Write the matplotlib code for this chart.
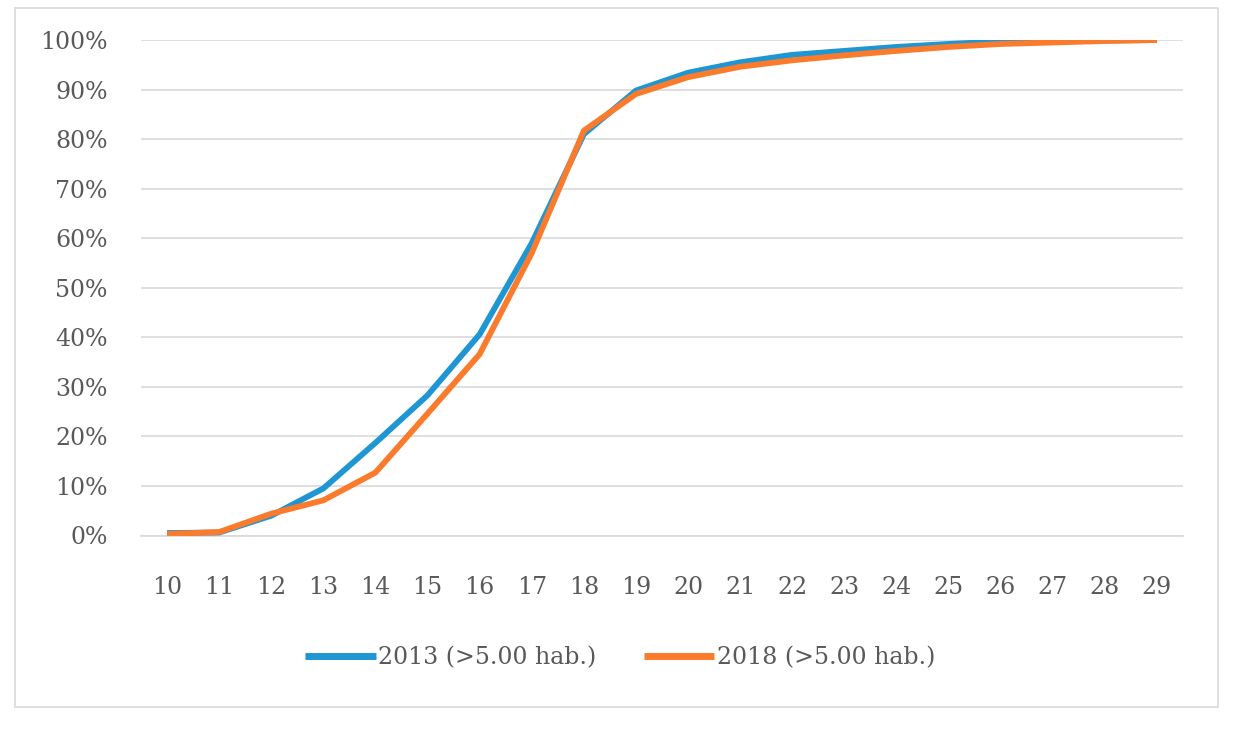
import matplotlib
matplotlib.use("Agg")
import matplotlib.pyplot as plt
from matplotlib.patches import Rectangle
from matplotlib.ticker import FuncFormatter

ages = [10, 11, 12, 13, 14, 15, 16, 17, 18, 19, 20, 21, 22, 23, 24, 25, 26, 27, 28, 29]
s2013 = [0.5, 0.6, 4.0, 9.5, 18.7, 28.3, 40.6, 59.0, 81.0, 89.8, 93.4, 95.5, 97.0, 97.8, 98.6, 99.2, 99.7, 99.8, 99.9, 100.0]
s2018 = [0.3, 0.7, 4.4, 7.1, 12.7, 24.6, 36.6, 57.0, 81.7, 89.1, 92.5, 94.6, 95.9, 96.9, 97.8, 98.6, 99.2, 99.5, 99.8, 100.0]
label2013 = "2013 (>5.00 hab.)"
label2018 = "2018 (>5.00 hab.)"

W, H = 1235, 730
fig = plt.figure(figsize=(W / 100, H / 100), dpi=100)
fig.patch.set_facecolor("white")
fig.add_artist(Rectangle((15 / W, 1 - 707 / H), (1218 - 15) / W, (707 - 8) / H,
                         transform=fig.transFigure, fill=False,
                         edgecolor="#d9d9d9", linewidth=1.2))

left, right, top, bottom = 141, 1183, 40, 535.5
ax = fig.add_axes([left / W, 1 - bottom / H, (right - left) / W, (bottom - top) / H])
ax.set_facecolor("none")

font = "DejaVu Serif"
tc = "#595959"
fs = 17

ax.plot(ages, s2013, color="#1e96d4", linewidth=4.2, label=label2013, solid_capstyle="butt", zorder=3)
ax.plot(ages, s2018, color="#fb7b2c", linewidth=4.2, label=label2018, solid_capstyle="butt", zorder=4)

ax.set_xlim(9.5, 29.5)
ax.set_ylim(0, 100)
ax.set_yticks(range(0, 101, 10))
ax.yaxis.set_major_formatter(FuncFormatter(lambda v, p: f"{int(v)}%"))
ax.set_xticks(ages)
ax.set_xticklabels([str(a) for a in ages])
ax.grid(axis="y", color="#d9d9d9", linewidth=1.2)
ax.set_axisbelow(True)
for s in ["top", "right", "left"]:
    ax.spines[s].set_visible(False)
ax.spines["bottom"].set_color("#d9d9d9")
ax.spines["bottom"].set_linewidth(1.2)
ax.tick_params(length=0)
ax.tick_params(axis="y", pad=24, labelsize=fs, labelcolor=tc)
ax.tick_params(axis="x", pad=29, labelsize=fs, labelcolor=tc)
for lab in ax.get_xticklabels() + ax.get_yticklabels():
    lab.set_fontfamily(font)

leg = fig.legend(loc="center", bbox_to_anchor=(620 / W, 1 - 658 / H), ncol=2, frameon=False,
                 prop={"family": font, "size": fs}, labelcolor=tc,
                 handlelength=3.0, handletextpad=0.1, columnspacing=2.0)
for line in leg.get_lines():
    line.set_linewidth(5)

fig.savefig("out.png", dpi=100)
